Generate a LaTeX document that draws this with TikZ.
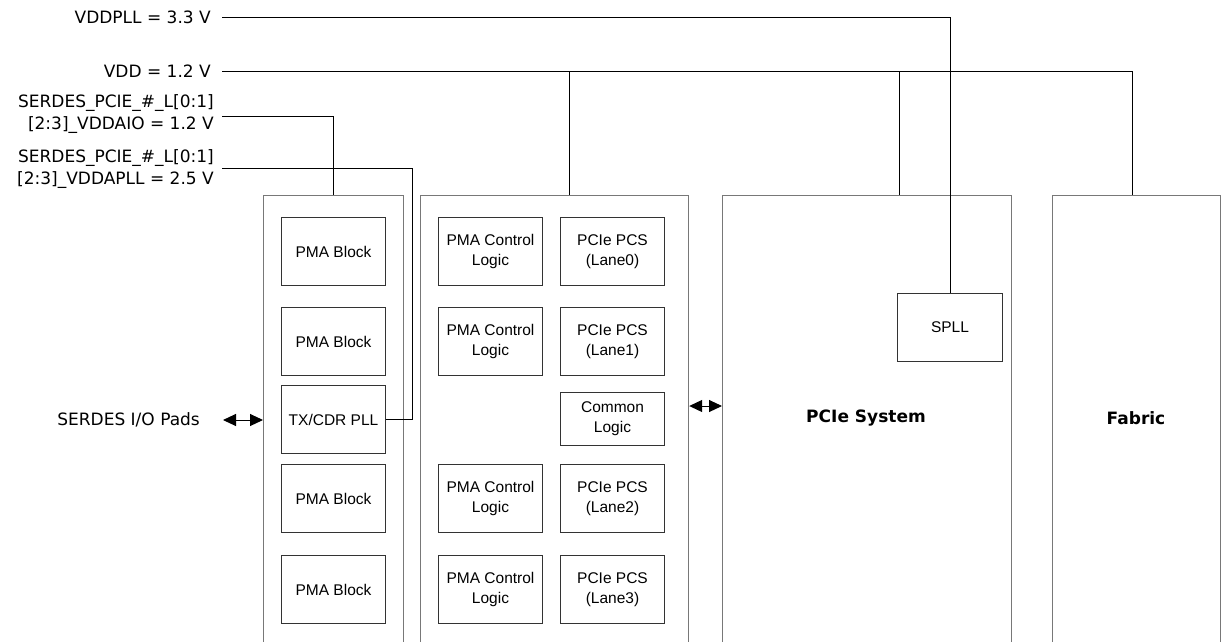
\documentclass[tikz,border=0pt]{standalone}
\usepackage{fontspec}
\setmainfont{DejaVu Sans}
\newfontfamily\boxfont{Liberation Sans}
\usetikzlibrary{arrows.meta}
\tikzset{
  outerbox/.style={draw={rgb,255:red,120;green,120;blue,120}, line width=1.2pt, rectangle, anchor=north west, inner sep=0pt},
  blk/.style={draw=black!80, line width=1pt, rectangle, anchor=north west, inner sep=0pt,
    minimum width=104pt, minimum height=68pt, align=center, font=\boxfont\fontsize{15.5}{20}\selectfont},
  wire/.style={draw=black, line width=1pt},
  lbl/.style={font=\fontsize{17}{21.5}\selectfont, inner sep=0pt},
  boldlbl/.style={inner sep=0pt, font=\bfseries\fontsize{17}{21}\selectfont},
  dblarrow/.style={wire, {Triangle[length=13pt,width=12pt]}-{Triangle[length=13pt,width=12pt]}},
}
\begin{document}
\begin{tikzpicture}[x=1pt,y=-1pt]
\clip (0,0) rectangle (1221,641);
\fill[white] (0,0) rectangle (1221,641);

% large blocks, open at the bottom edge
\node[outerbox, minimum width=140pt, minimum height=470pt] (lbox)   at (263,195) {};
\node[outerbox, minimum width=268pt, minimum height=470pt] (mid)    at (420,195) {};
\node[outerbox, minimum width=289pt, minimum height=470pt] (pcie)   at (722,195) {};
\node[outerbox, minimum width=168pt, minimum height=470pt] (fabric) at (1052,195) {};

% PMA column
\node[blk] (pma1)  at (281,217) {PMA Block};
\node[blk] (pma2)  at (281,307) {PMA Block};
\node[blk] (txpll) at (281,385) {TX/CDR PLL};
\node[blk] (pma3)  at (281,464) {PMA Block};
\node[blk] (pma4)  at (281,555) {PMA Block};

% control logic and PCS column
\node[blk] (ctl0) at (438,217) {PMA Control\\Logic};
\node[blk] (pcs0) at (560,217) {PCIe PCS\\(Lane0)};
\node[blk] (ctl1) at (438,307) {PMA Control\\Logic};
\node[blk] (pcs1) at (560,307) {PCIe PCS\\(Lane1)};
\node[blk, minimum height=53pt] (common) at (560,392) {Common\\Logic};
\node[blk] (ctl2) at (438,464) {PMA Control\\Logic};
\node[blk] (pcs2) at (560,464) {PCIe PCS\\(Lane2)};
\node[blk] (ctl3) at (438,555) {PMA Control\\Logic};
\node[blk] (pcs3) at (560,555) {PCIe PCS\\(Lane3)};

\node[blk, minimum width=105pt] (spll) at (897,293) {SPLL};

\node[boldlbl] (pciel) at (866,418) {PCIe System};
\node[boldlbl] (fabl)  at (1136,418) {Fabric};

% supply labels
\node[lbl, anchor=east] (lvpll) at (211,17) {VDDPLL = 3.3 V};
\node[lbl, anchor=east] (lvdd)  at (211,71) {VDD = 1.2 V};
\node[lbl, anchor=east, align=right] (laio) at (214,114) {SERDES\_PCIE\_\#\_L[0:1]\\{}[2:3]\_VDDAIO = 1.2 V};
\node[lbl, anchor=east, align=right] (lapll) at (214,169) {SERDES\_PCIE\_\#\_L[0:1]\\{}[2:3]\_VDDAPLL = 2.5 V};
\node[lbl, anchor=east] (lpads) at (200,420) {SERDES I/O Pads};

% supply rails
\coordinate (vpll)  at (222,17);
\coordinate (vdd)   at (222,71);
\coordinate (vaio)  at (222,116);
\coordinate (vapll) at (222,168);
\coordinate (bend)  at (412,168);
\coordinate (j1)    at (569,71);
\coordinate (j2)    at (899,71);
\coordinate (fj)    at (1132,71);

\draw[wire] (vpll) -| (spll.north);
\draw[wire] (vdd) -- (fj) -- (fj |- fabric.north);
\draw[wire] (j1) -- (j1 |- mid.north);
\draw[wire] (j2) -- (j2 |- pcie.north);
\draw[wire] (vaio) -| (lbox.north);
\draw[wire] (vapll) -- (bend) |- (txpll.east);

% data paths
\coordinate (pads) at (223,420);
\coordinate (link) at (705,406);
\draw[dblarrow] (pads) -- (pads -| lbox.west);
\draw[dblarrow] (link -| mid.east) -- (link -| pcie.west);
\end{tikzpicture}
\end{document}
